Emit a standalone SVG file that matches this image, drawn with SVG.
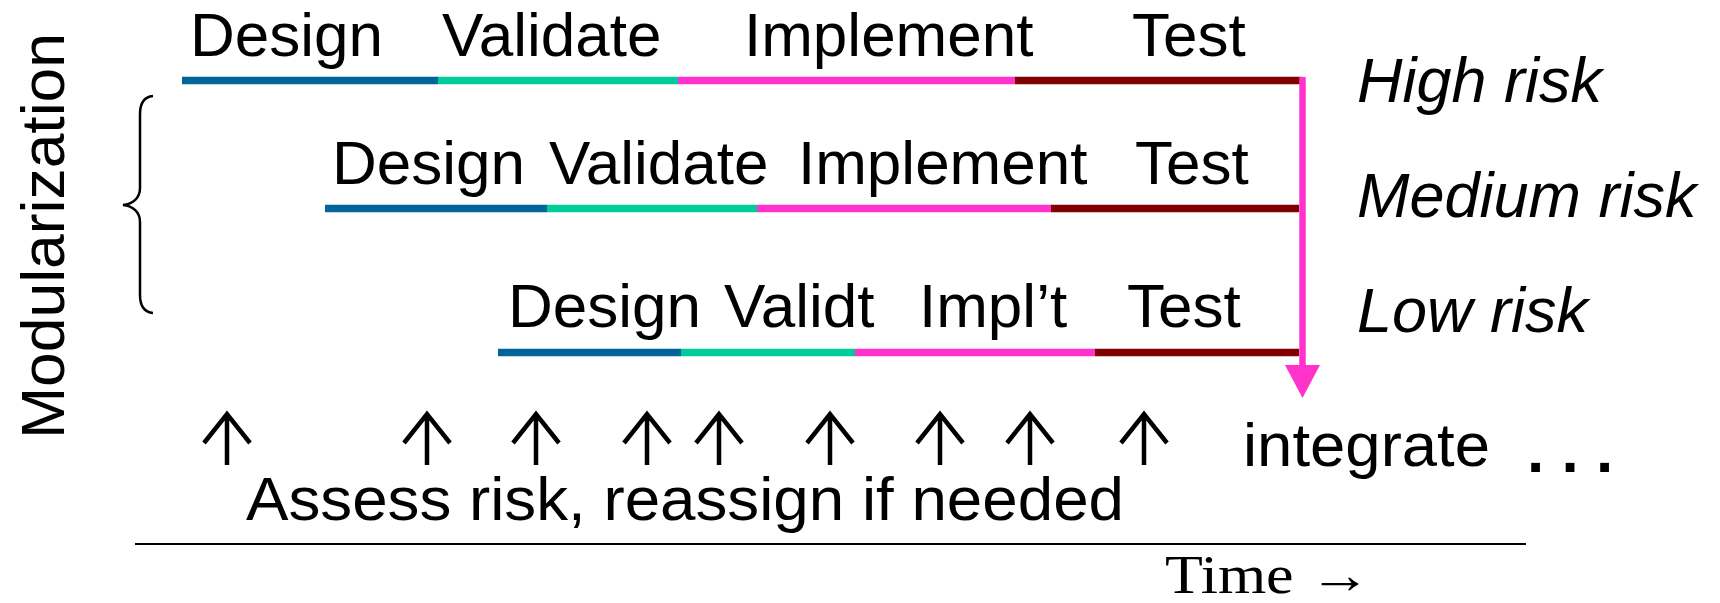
<svg xmlns="http://www.w3.org/2000/svg" width="1720" height="603" viewBox="0 0 1720 603">
  <style>
    .lbl { font-family: "Liberation Sans", Arial, sans-serif; font-size: 62px; fill: #000; }
    .risk { font-family: "Liberation Sans", Arial, sans-serif; font-size: 63px; font-style: italic; fill: #000; }
    .seg { stroke-width: 7.5; fill: none; }
    .design { stroke: #006699; }
    .validate { stroke: #00CC99; }
    .implement { stroke: #FF33CC; }
    .test { stroke: #800000; }
    .tick { stroke: #000; stroke-width: 4.5; fill: none; stroke-linecap: butt; }
  </style>

  <!-- vertical axis label and brace -->
  <g id="modularization">
    <text class="lbl" font-size="63" text-anchor="middle" transform="translate(64,236) rotate(-90)" textLength="406" lengthAdjust="spacingAndGlyphs">Modularization</text>
    <path d="M153,96 C143,97 140,104 140,114 L140,188 C140,198 133,204 123,205 C133,206 140,212 140,222 L140,295 C140,305 143,312 153,313" fill="none" stroke="#000" stroke-width="2.5"/>
  </g>

  <!-- high risk track -->
  <g id="track-high">
    <text class="lbl" x="190" y="56">Design</text>
    <text class="lbl" x="442" y="56">Validate</text>
    <text class="lbl" x="744" y="56">Implement</text>
    <text class="lbl" x="1132" y="56">Test</text>
    <line class="seg design" x1="182" y1="80.5" x2="438" y2="80.5"/>
    <line class="seg validate" x1="438" y1="80.5" x2="678" y2="80.5"/>
    <line class="seg implement" x1="678" y1="80.5" x2="1015" y2="80.5"/>
    <line class="seg test" x1="1015" y1="80.5" x2="1302" y2="80.5"/>
    <text class="risk" x="1357" y="102">High risk</text>
  </g>

  <!-- medium risk track -->
  <g id="track-medium">
    <text class="lbl" x="332" y="184">Design</text>
    <text class="lbl" x="549" y="184">Validate</text>
    <text class="lbl" x="798" y="184">Implement</text>
    <text class="lbl" x="1135" y="184">Test</text>
    <line class="seg design" x1="325" y1="208.5" x2="547" y2="208.5"/>
    <line class="seg validate" x1="547" y1="208.5" x2="757" y2="208.5"/>
    <line class="seg implement" x1="757" y1="208.5" x2="1051" y2="208.5"/>
    <line class="seg test" x1="1051" y1="208.5" x2="1299" y2="208.5"/>
    <text class="risk" x="1357" y="217">Medium risk</text>
  </g>

  <!-- low risk track -->
  <g id="track-low">
    <text class="lbl" x="508" y="327">Design</text>
    <text class="lbl" x="724" y="327">Validt</text>
    <text class="lbl" x="919" y="327">Impl’t</text>
    <text class="lbl" x="1127" y="327">Test</text>
    <line class="seg design" x1="498" y1="352.5" x2="681" y2="352.5"/>
    <line class="seg validate" x1="681" y1="352.5" x2="855" y2="352.5"/>
    <line class="seg implement" x1="855" y1="352.5" x2="1095" y2="352.5"/>
    <line class="seg test" x1="1095" y1="352.5" x2="1299" y2="352.5"/>
    <text class="risk" x="1357" y="332">Low risk</text>
  </g>

  <!-- integration -->
  <g id="integrate">
    <text class="lbl" font-size="63" x="1243" y="466" textLength="247" lengthAdjust="spacingAndGlyphs">integrate</text>
    <text class="lbl" font-size="62" font-weight="bold" x="1527" y="472">. . .</text>
  </g>

  <!-- risk assessment points -->
  <g id="assess">
    <g class="tick">
      <path d="M227,414 V465 M204,443 L227,414 L250,443"/>
      <path d="M427,414 V465 M404,443 L427,414 L450,443"/>
      <path d="M536,414 V465 M513,443 L536,414 L559,443"/>
      <path d="M647,414 V465 M624,443 L647,414 L670,443"/>
      <path d="M719,414 V465 M696,443 L719,414 L742,443"/>
      <path d="M830,414 V465 M807,443 L830,414 L853,443"/>
      <path d="M940,414 V465 M917,443 L940,414 L963,443"/>
      <path d="M1030,414 V465 M1007,443 L1030,414 L1053,443"/>
      <path d="M1144,414 V465 M1121,443 L1144,414 L1167,443"/>
    </g>
    <text class="lbl" x="246" y="520" textLength="878" lengthAdjust="spacingAndGlyphs">Assess risk, reassign if needed</text>
  </g>

  <!-- time axis -->
  <g id="time-axis">
    <line x1="135" y1="544" x2="1526" y2="544" stroke="#000" stroke-width="2"/>
    <text x="1165" y="593" font-family="'Liberation Serif', 'Times New Roman', serif" font-size="54" textLength="206" lengthAdjust="spacingAndGlyphs">Time →</text>
  </g>

  <!-- integration connector -->
  <g id="connectors">
    <line x1="1302.5" y1="77" x2="1302.5" y2="366" stroke="#FF33CC" stroke-width="6.5"/>
    <polygon points="1285,365 1320,365 1302.5,398" fill="#FF33CC"/>
  </g>
</svg>
